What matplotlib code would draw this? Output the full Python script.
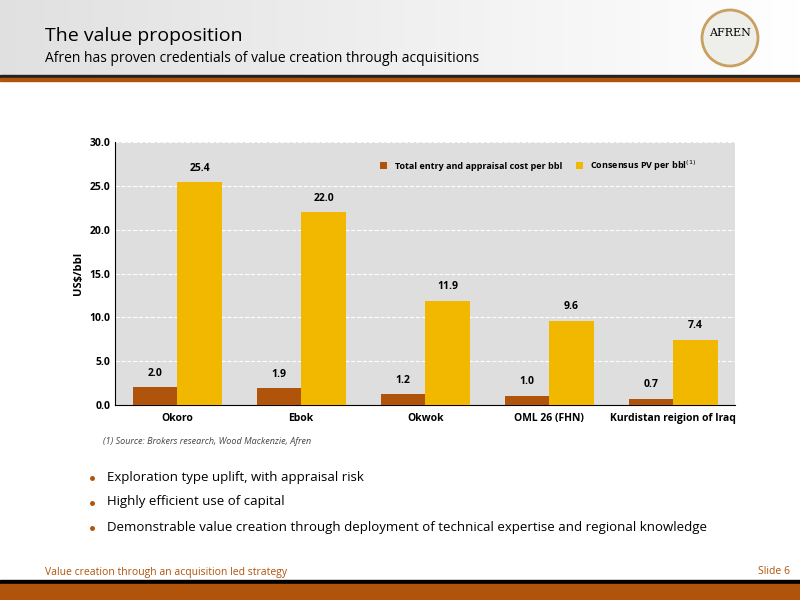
import numpy as np
import matplotlib.pyplot as plt
from matplotlib.patches import Rectangle, Circle

categories = ['Okoro', 'Ebok', 'Okwok', 'OML 26 (FHN)', 'Kurdistan reigion of Iraq']
cost = [2.0, 1.9, 1.2, 1.0, 0.7]
pv = [25.4, 22.0, 11.9, 9.6, 7.4]
bullets = ['Exploration type uplift, with appraisal risk',
           'Highly efficient use of capital',
           'Demonstrable value creation through deployment of technical expertise and regional knowledge']

plt.rcParams['font.family'] = ['Open Sans', 'DejaVu Sans']
BROWN = '#b0540c'
GOLD = '#f2b800'

fig = plt.figure(figsize=(8, 6), dpi=100)

# header gradient
bg = fig.add_axes([0, 0, 1, 1])
bg.set_xlim(0, 800); bg.set_ylim(600, 0); bg.axis('off')
grad = np.linspace(0.88, 1.0, 256).reshape(1, -1)
bg.imshow(np.dstack([grad, grad, grad]), extent=[0, 800, 75, 0], aspect='auto')
bg.add_patch(Rectangle((0, 75), 800, 3, color='#222222'))
bg.add_patch(Rectangle((0, 78), 800, 3, color=BROWN))
bg.add_patch(Rectangle((0, 580), 800, 4, color='black'))
bg.add_patch(Rectangle((0, 584), 800, 16, color=BROWN))
bg.add_patch(Circle((730, 38), 28, facecolor='#eeeeea', edgecolor='#c8a060', lw=2))
bg.text(730, 33, 'AFREN', ha='center', va='center', fontsize=8, family='DejaVu Serif')
bg.text(45, 36, 'The value proposition', fontsize=14, va='center')
bg.text(45, 59, 'Afren has proven credentials of value creation through acquisitions', fontsize=10, va='center')
bg.text(45, 572, 'Value creation through an acquisition led strategy', fontsize=7.5, color=BROWN, va='center')
bg.text(790, 572, 'Slide 6', fontsize=7.5, color=BROWN, va='center', ha='right')
bg.text(103, 442, '(1) Source: Brokers research, Wood Mackenzie, Afren', fontsize=6.5, style='italic', color='#444444', va='center')
for i, b in enumerate(bullets):
    y = 477 + i * 25
    bg.plot(92, y + 1, 'o', color=BROWN, ms=2.5)
    bg.text(107, y, b, fontsize=9.5, va='center')

ax = fig.add_axes([0.144, 0.325, 0.775, 0.438])
ax.set_facecolor('#dedede')
x = np.arange(len(categories))
w = 0.36
b1 = ax.bar(x - w / 2, cost, w, color=BROWN, label='Total entry and appraisal cost per bbl', zorder=3)
b2 = ax.bar(x + w / 2, pv, w, color=GOLD, label='Consensus PV per bbl$^{(1)}$', zorder=3)
for bars, vals in ((b1, cost), (b2, pv)):
    for r, v in zip(bars, vals):
        ax.text(r.get_x() + r.get_width() / 2, v + 1.0, f'{v:.1f}', ha='center', va='bottom',
                fontsize=7.5, fontweight='bold')
ax.set_ylim(0, 30)
ax.set_xlim(-0.5, 4.5)
ax.set_yticks(np.arange(0, 31, 5))
ax.set_yticklabels([f'{v:.1f}' for v in np.arange(0, 31, 5)], fontsize=7.5, fontweight='bold')
ax.set_xticks(x)
ax.set_xticklabels(categories, fontsize=7.5, fontweight='bold')
ax.set_ylabel('US$/bbl', fontsize=8, fontweight='bold')
ax.yaxis.grid(True, color='white', linestyle='--', lw=0.8, zorder=0)
for s in ['top', 'right']:
    ax.spines[s].set_visible(False)
ax.tick_params(length=0)
ax.tick_params(axis='x', pad=6)
ax.legend(loc='upper right', bbox_to_anchor=(0.95, 0.97), ncol=2, frameon=False,
          prop={'size': 6.5, 'weight': 'bold'},
          handlelength=0.8, handleheight=0.8, columnspacing=1.5)

fig.savefig('out.png', dpi=100)
